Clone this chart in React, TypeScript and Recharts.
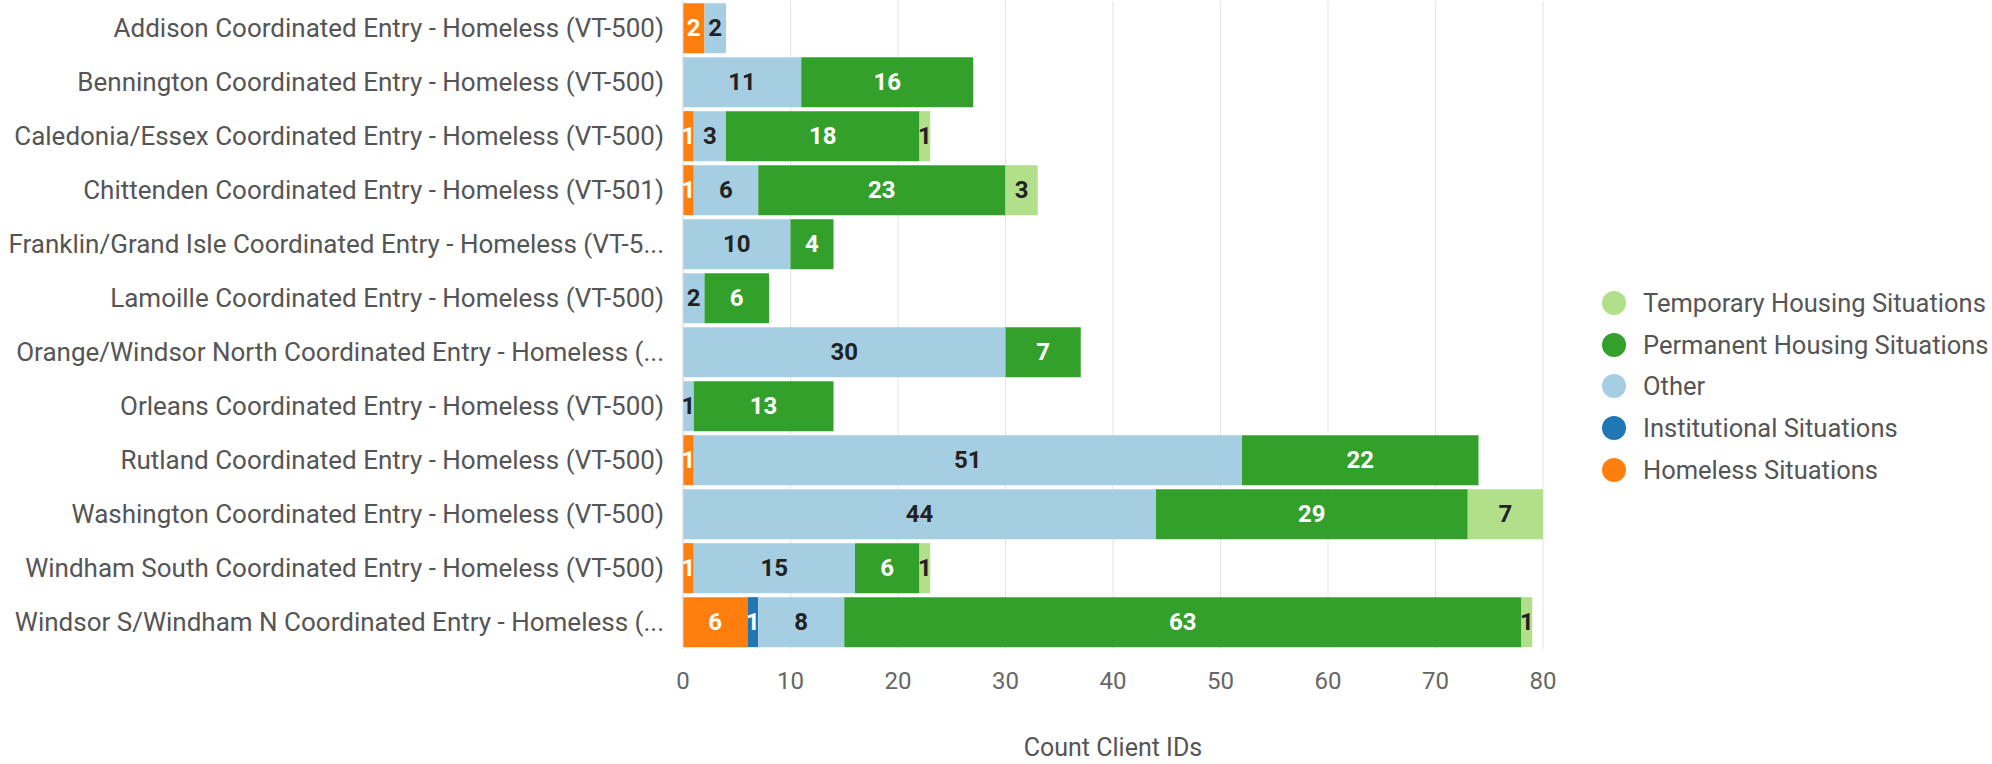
import { BarChart, Bar, XAxis, YAxis, CartesianGrid, Legend, LabelList, Label } from 'recharts';

const categories = [
  'Addison Coordinated Entry - Homeless (VT-500)',
  'Bennington Coordinated Entry - Homeless (VT-500)',
  'Caledonia/Essex Coordinated Entry - Homeless (VT-500)',
  'Chittenden Coordinated Entry - Homeless (VT-501)',
  'Franklin/Grand Isle Coordinated Entry - Homeless (VT-5...',
  'Lamoille Coordinated Entry - Homeless (VT-500)',
  'Orange/Windsor North Coordinated Entry - Homeless (...',
  'Orleans Coordinated Entry - Homeless (VT-500)',
  'Rutland Coordinated Entry - Homeless (VT-500)',
  'Washington Coordinated Entry - Homeless (VT-500)',
  'Windham South Coordinated Entry - Homeless (VT-500)',
  'Windsor S/Windham N Coordinated Entry - Homeless (...',
];

const homeless = [2, 0, 1, 1, 0, 0, 0, 0, 1, 0, 1, 6];
const institutional = [0, 0, 0, 0, 0, 0, 0, 0, 0, 0, 0, 1];
const other = [2, 11, 3, 6, 10, 2, 30, 1, 51, 44, 15, 8];
const permanent = [0, 16, 18, 23, 4, 6, 7, 13, 22, 29, 6, 63];
const temporary = [0, 0, 1, 3, 0, 0, 0, 0, 0, 7, 1, 1];

const xTicks = [0, 10, 20, 30, 40, 50, 60, 70, 80];

const series = [
  { key: 'homeless', name: 'Homeless Situations', color: '#ff7f0e', text: '#ffffff' },
  { key: 'institutional', name: 'Institutional Situations', color: '#1f77b4', text: '#ffffff' },
  { key: 'other', name: 'Other', color: '#a6cee3', text: '#222222' },
  { key: 'permanent', name: 'Permanent Housing Situations', color: '#33a02c', text: '#ffffff' },
  { key: 'temporary', name: 'Temporary Housing Situations', color: '#b2df8a', text: '#222222' },
];

const data = categories.map((name, i) => ({
  name,
  homeless: homeless[i],
  institutional: institutional[i],
  other: other[i],
  permanent: permanent[i],
  temporary: temporary[i],
}));

const FONT = 'Roboto, sans-serif';

const makeLabel = (fill: string) => (props: any) => {
  const { x, y, width, height, value } = props;
  if (!value) return null;
  return (
    <text
      x={x + width / 2}
      y={y + height / 2}
      textAnchor="middle"
      dominantBaseline="central"
      fill={fill}
      fontFamily={FONT}
      fontSize={24}
      fontWeight={700}
    >
      {value}
    </text>
  );
};

const LegendBox = () => (
  <div style={{ fontFamily: FONT, fontSize: 25.5, color: '#555' }}>
    {[...series].reverse().map((s) => (
      <div key={s.key} style={{ display: 'flex', alignItems: 'center', height: 41.7, whiteSpace: 'nowrap' }}>
        <span
          style={{
            display: 'inline-block',
            flexShrink: 0,
            width: 24,
            height: 24,
            borderRadius: 12,
            background: s.color,
            marginRight: 17,
          }}
        />
        {s.name}
      </div>
    ))}
  </div>
);

const App = () => {
  return (
    <div style={{ position: 'absolute', left: 0, top: 0, width: 1992, height: 764, overflow: 'hidden', background: '#fff' }}>
      <BarChart
        width={1992}
        height={764}
        data={data}
        layout="vertical"
        margin={{ top: 1, right: 449, left: 0, bottom: 0 }}
        barCategoryGap="4%"
      >
        <CartesianGrid horizontal={false} stroke="#e3e3e3" />
        <XAxis
          type="number"
          domain={[0, 80]}
          ticks={xTicks}
          height={115}
          axisLine={false}
          tickLine={false}
          tickSize={0}
          tickMargin={23}
          tick={{ fill: '#666', fontSize: 24, fontFamily: FONT }}
        >
          <Label
            value="Count Client IDs"
            position="insideBottom"
            offset={8}
            style={{ fill: '#555', fontSize: 25, fontFamily: FONT }}
          />
        </XAxis>
        <YAxis
          type="category"
          dataKey="name"
          width={683}
          axisLine={{ stroke: '#dcdce6' }}
          tickLine={false}
          tickSize={0}
          tickMargin={19}
          interval={0}
          tick={{ fill: '#555', fontSize: 26, fontFamily: FONT }}
        />
        <Legend
          layout="vertical"
          align="center"
          verticalAlign="middle"
          content={<LegendBox />}
          wrapperStyle={{ left: 1602, top: 282, width: 388 }}
        />
        {series.map((s) => (
          <Bar key={s.key} dataKey={s.key} name={s.name} stackId="a" fill={s.color} isAnimationActive={false}>
            <LabelList dataKey={s.key} content={makeLabel(s.text)} />
          </Bar>
        ))}
      </BarChart>
    </div>
  );
};

export default App;
